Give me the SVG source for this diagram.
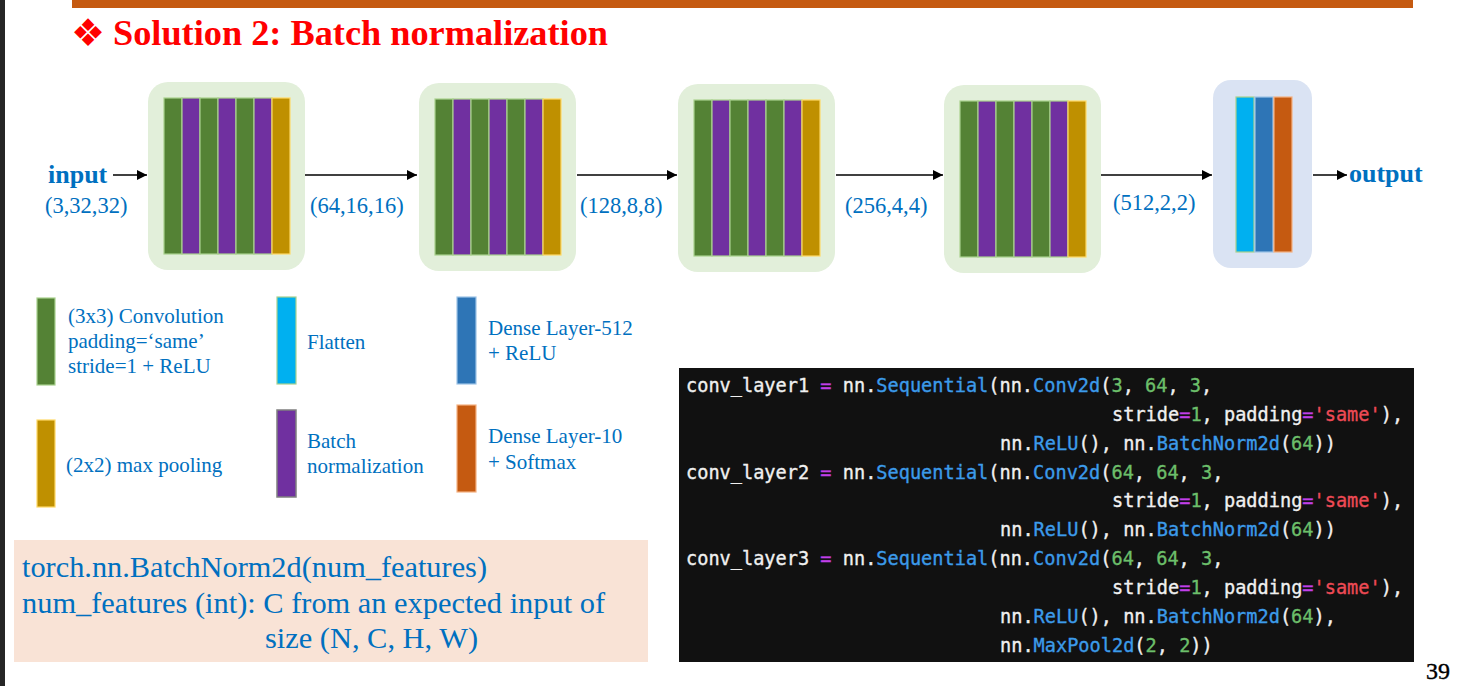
<svg xmlns="http://www.w3.org/2000/svg" width="1459" height="686" viewBox="0 0 1459 686">
  <defs>
    <marker id="arrow" viewBox="0 0 10 10" refX="10" refY="5" markerWidth="10" markerHeight="10" markerUnits="userSpaceOnUse" orient="auto">
      <path d="M0,0 L10,5 L0,10 z" fill="#000"/>
    </marker>
    <style>
      .blk { fill: #E2EFDA; }
      .blk5 { fill: #DAE3F3; }
      .conv { fill: #548235; stroke: #A9D18E; stroke-width: 1.2; }
      .bn { fill: #7030A0; stroke: #A9D18E; stroke-width: 1.2; }
      .pool { fill: #BF9000; stroke: #FFD966; stroke-width: 1.2; }
      .flat { fill: #00B0F0; stroke: #A9D18E; stroke-width: 1.2; }
      .d512 { fill: #2E75B6; stroke: #9DC3E6; stroke-width: 1.2; }
      .d10 { fill: #C55A11; stroke: #F4B183; stroke-width: 1.2; }
      .bnl { fill: #7030A0; stroke: #7F7F7F; stroke-width: 1.5; }
      .lbl { font-family: "Liberation Serif", "Times New Roman", serif; fill: #0070C0; }
      .io { font-size: 26px; font-weight: bold; }
      .dim { font-size: 22.5px; }
      .leg { font-size: 21px; }
      .note { font-size: 30px; }
      .code { font-family: "DejaVu Sans Mono", "Liberation Mono", monospace; font-size: 18.6px; fill: #F0F0F0; stroke: currentColor; }
      .f { fill: #3C9BEA; }
      .n { fill: #6CBF6A; }
      .o { fill: #C23FE8; }
      .s { fill: #EE4A55; }
      .conn line { stroke: #000; stroke-width: 1.6; }
      .pg { font-family: "Liberation Serif", "Times New Roman", serif; font-size: 24px; fill: #000; stroke: #000; stroke-width: 0.4; }
    </style>
  </defs>

  <rect x="0" y="0" width="1459" height="686" fill="#FFFFFF"/>
  <!-- slide frame accents -->
  <rect x="0" y="0" width="5" height="686" fill="#262626"/>
  <rect x="72" y="0" width="1341" height="8" fill="#C55A11"/>

  <!-- heading -->
  <text x="71" y="46" fill="#FF0000" font-family="DejaVu Sans, sans-serif" font-size="38px">❖</text>
  <text x="113" y="45" fill="#FF0000" font-family="Liberation Serif, 'Times New Roman', serif" font-weight="bold" font-size="35px" textLength="495" lengthAdjust="spacingAndGlyphs">Solution 2: Batch normalization</text>

  <!-- conv block 1 -->
  <g id="block1">
    <rect class="blk" x="148" y="82" width="157" height="188" rx="20"/>
    <rect class="conv" x="164" y="98" width="18" height="156"/>
    <rect class="bn" x="182" y="98" width="18" height="156"/>
    <rect class="conv" x="200" y="98" width="18" height="156"/>
    <rect class="bn" x="218" y="98" width="18" height="156"/>
    <rect class="conv" x="236" y="98" width="18" height="156"/>
    <rect class="bn" x="254" y="98" width="18" height="156"/>
    <rect class="pool" x="272" y="98" width="18" height="156"/>
  </g>

  <!-- conv block 2 -->
  <g id="block2">
    <rect class="blk" x="419" y="83" width="157" height="188" rx="20"/>
    <rect class="conv" x="435" y="99" width="18" height="156"/>
    <rect class="bn" x="453" y="99" width="18" height="156"/>
    <rect class="conv" x="471" y="99" width="18" height="156"/>
    <rect class="bn" x="489" y="99" width="18" height="156"/>
    <rect class="conv" x="507" y="99" width="18" height="156"/>
    <rect class="bn" x="525" y="99" width="18" height="156"/>
    <rect class="pool" x="543" y="99" width="18" height="156"/>
  </g>

  <!-- conv block 3 -->
  <g id="block3">
    <rect class="blk" x="678" y="84" width="157" height="188" rx="20"/>
    <rect class="conv" x="694" y="100" width="18" height="156"/>
    <rect class="bn" x="712" y="100" width="18" height="156"/>
    <rect class="conv" x="730" y="100" width="18" height="156"/>
    <rect class="bn" x="748" y="100" width="18" height="156"/>
    <rect class="conv" x="766" y="100" width="18" height="156"/>
    <rect class="bn" x="784" y="100" width="18" height="156"/>
    <rect class="pool" x="802" y="100" width="18" height="156"/>
  </g>

  <!-- conv block 4 -->
  <g id="block4">
    <rect class="blk" x="944" y="85" width="157" height="188" rx="20"/>
    <rect class="conv" x="960" y="101" width="18" height="156"/>
    <rect class="bn" x="978" y="101" width="18" height="156"/>
    <rect class="conv" x="996" y="101" width="18" height="156"/>
    <rect class="bn" x="1014" y="101" width="18" height="156"/>
    <rect class="conv" x="1032" y="101" width="18" height="156"/>
    <rect class="bn" x="1050" y="101" width="18" height="156"/>
    <rect class="pool" x="1068" y="101" width="18" height="156"/>
  </g>

  <!-- classifier head -->
  <g id="head">
    <rect class="blk5" x="1213" y="80" width="99" height="188" rx="18"/>
    <rect class="flat" x="1236" y="97" width="18" height="155"/>
    <rect class="d512" x="1255" y="97" width="18" height="155"/>
    <rect class="d10" x="1274" y="97" width="18" height="155"/>
  </g>

  <!-- data flow -->
  <g id="connectors" class="conn">
    <line x1="113" y1="175" x2="147" y2="175" marker-end="url(#arrow)"/>
    <line x1="305" y1="175" x2="417" y2="175" marker-end="url(#arrow)"/>
    <line x1="577" y1="175" x2="677" y2="175" marker-end="url(#arrow)"/>
    <line x1="836" y1="175" x2="943" y2="175" marker-end="url(#arrow)"/>
    <line x1="1101" y1="175" x2="1212" y2="175" marker-end="url(#arrow)"/>
    <line x1="1313" y1="175" x2="1347" y2="175" marker-end="url(#arrow)"/>
  </g>

  <!-- tensor shapes -->
  <g id="labels" class="lbl">
    <text class="io" x="48" y="183">input</text>
    <text class="dim" x="45" y="213">(3,32,32)</text>
    <text class="dim" x="310" y="213">(64,16,16)</text>
    <text class="dim" x="580" y="213">(128,8,8)</text>
    <text class="dim" x="845" y="213">(256,4,4)</text>
    <text class="dim" x="1113" y="210">(512,2,2)</text>
    <text class="io" x="1349" y="182">output</text>
  </g>

  <!-- legend -->
  <g id="legend-conv">
    <rect class="conv" x="37" y="298" width="18" height="87" stroke-width="1.6"/>
    <text class="lbl leg" x="68" y="323">(3x3) Convolution</text>
    <text class="lbl leg" x="68" y="348">padding=‘same’</text>
    <text class="lbl leg" x="68" y="373">stride=1 + ReLU</text>
  </g>
  <g id="legend-pool">
    <rect class="pool" x="37" y="420" width="18" height="87" stroke-width="1.6"/>
    <text class="lbl leg" x="66" y="472">(2x2) max pooling</text>
  </g>
  <g id="legend-flatten">
    <rect class="flat" x="277" y="297" width="19" height="87" stroke-width="1.6"/>
    <text class="lbl leg" x="307" y="349">Flatten</text>
  </g>
  <g id="legend-bn">
    <rect class="bnl" x="277" y="410" width="19" height="87"/>
    <text class="lbl leg" x="307" y="448">Batch</text>
    <text class="lbl leg" x="307" y="473">normalization</text>
  </g>
  <g id="legend-d512">
    <rect class="d512" x="457" y="297" width="19" height="87" stroke-width="1.6"/>
    <text class="lbl leg" x="488" y="335">Dense Layer-512</text>
    <text class="lbl leg" x="488" y="360">+ ReLU</text>
  </g>
  <g id="legend-d10">
    <rect class="d10" x="457" y="405" width="19" height="87" stroke-width="1.6"/>
    <text class="lbl leg" x="488" y="443">Dense Layer-10</text>
    <text class="lbl leg" x="488" y="469">+ Softmax</text>
  </g>

  <!-- API note -->
  <g id="note">
    <rect x="14" y="540" width="634" height="122" fill="#F9E3D6"/>
    <text class="lbl note" x="22" y="577" textLength="465" lengthAdjust="spacingAndGlyphs">torch.nn.BatchNorm2d(num_features)</text>
    <text class="lbl note" x="22" y="613" textLength="583" lengthAdjust="spacingAndGlyphs">num_features (int): C from an expected input of</text>
    <text class="lbl note" x="265" y="648" textLength="213" lengthAdjust="spacingAndGlyphs">size (N, C, H, W)</text>
  </g>

  <!-- PyTorch snippet (thin stroke thickens the mono glyphs a little) -->
  <g id="code" stroke-width="0.35">
    <rect x="679" y="368" width="735" height="294" fill="#111111" stroke="none"/>
    <text class="code" x="686" y="392" xml:space="preserve" color="#F0F0F0">conv_layer1 <tspan class="o" color="#C23FE8">=</tspan> nn.<tspan class="f" color="#3C9BEA">Sequential</tspan>(nn.<tspan class="f" color="#3C9BEA">Conv2d</tspan>(<tspan class="n" color="#6CBF6A">3</tspan>, <tspan class="n" color="#6CBF6A">64</tspan>, <tspan class="n" color="#6CBF6A">3</tspan>,</text>
    <text class="code" x="1112" y="421" xml:space="preserve" color="#F0F0F0">stride<tspan class="o" color="#C23FE8">=</tspan><tspan class="n" color="#6CBF6A">1</tspan>, padding<tspan class="o" color="#C23FE8">=</tspan><tspan class="s" color="#EE4A55">'same'</tspan>),</text>
    <text class="code" x="1000" y="450" xml:space="preserve" color="#F0F0F0">nn.<tspan class="f" color="#3C9BEA">ReLU</tspan>(), nn.<tspan class="f" color="#3C9BEA">BatchNorm2d</tspan>(<tspan class="n" color="#6CBF6A">64</tspan>))</text>
    <text class="code" x="686" y="479" xml:space="preserve" color="#F0F0F0">conv_layer2 <tspan class="o" color="#C23FE8">=</tspan> nn.<tspan class="f" color="#3C9BEA">Sequential</tspan>(nn.<tspan class="f" color="#3C9BEA">Conv2d</tspan>(<tspan class="n" color="#6CBF6A">64</tspan>, <tspan class="n" color="#6CBF6A">64</tspan>, <tspan class="n" color="#6CBF6A">3</tspan>,</text>
    <text class="code" x="1112" y="507" xml:space="preserve" color="#F0F0F0">stride<tspan class="o" color="#C23FE8">=</tspan><tspan class="n" color="#6CBF6A">1</tspan>, padding<tspan class="o" color="#C23FE8">=</tspan><tspan class="s" color="#EE4A55">'same'</tspan>),</text>
    <text class="code" x="1000" y="536" xml:space="preserve" color="#F0F0F0">nn.<tspan class="f" color="#3C9BEA">ReLU</tspan>(), nn.<tspan class="f" color="#3C9BEA">BatchNorm2d</tspan>(<tspan class="n" color="#6CBF6A">64</tspan>))</text>
    <text class="code" x="686" y="565" xml:space="preserve" color="#F0F0F0">conv_layer3 <tspan class="o" color="#C23FE8">=</tspan> nn.<tspan class="f" color="#3C9BEA">Sequential</tspan>(nn.<tspan class="f" color="#3C9BEA">Conv2d</tspan>(<tspan class="n" color="#6CBF6A">64</tspan>, <tspan class="n" color="#6CBF6A">64</tspan>, <tspan class="n" color="#6CBF6A">3</tspan>,</text>
    <text class="code" x="1112" y="594" xml:space="preserve" color="#F0F0F0">stride<tspan class="o" color="#C23FE8">=</tspan><tspan class="n" color="#6CBF6A">1</tspan>, padding<tspan class="o" color="#C23FE8">=</tspan><tspan class="s" color="#EE4A55">'same'</tspan>),</text>
    <text class="code" x="1000" y="623" xml:space="preserve" color="#F0F0F0">nn.<tspan class="f" color="#3C9BEA">ReLU</tspan>(), nn.<tspan class="f" color="#3C9BEA">BatchNorm2d</tspan>(<tspan class="n" color="#6CBF6A">64</tspan>),</text>
    <text class="code" x="1000" y="652" xml:space="preserve" color="#F0F0F0">nn.<tspan class="f" color="#3C9BEA">MaxPool2d</tspan>(<tspan class="n" color="#6CBF6A">2</tspan>, <tspan class="n" color="#6CBF6A">2</tspan>))</text>
  </g>

  <!-- page number -->
  <text class="pg" x="1426" y="679">39</text>
</svg>
